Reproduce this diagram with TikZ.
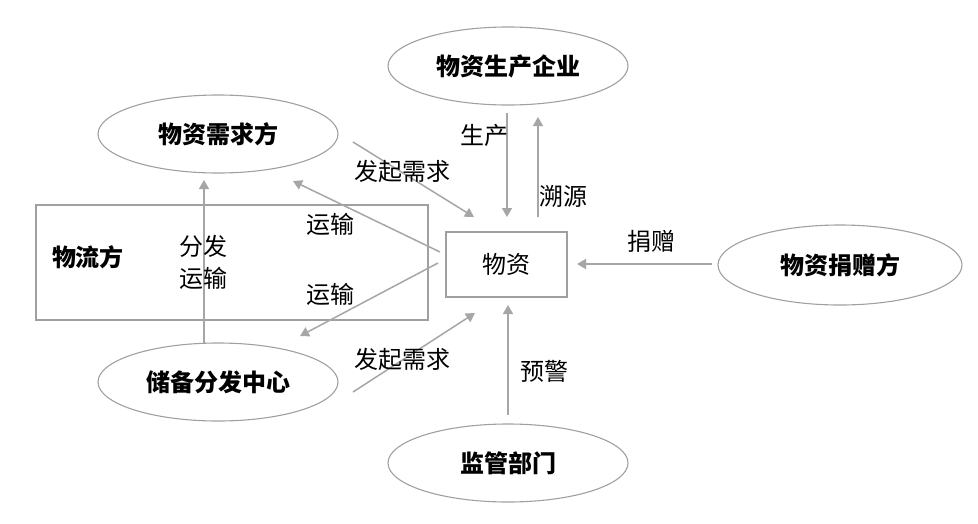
\documentclass[tikz,border=0pt]{standalone}
\usepackage{fontspec}
\setmainfont{Noto Sans CJK SC}
\usetikzlibrary{shapes.geometric,arrows.meta}
\definecolor{linegray}{HTML}{A6A6A6}
\definecolor{bordergray}{HTML}{A0A0A0}
\tikzset{
  party/.style={ellipse, draw=bordergray, line width=1.1pt, minimum width=240pt, minimum height=78pt, inner sep=0pt, font=\fontsize{24}{26}\selectfont\bfseries},
  boxnode/.style={rectangle, draw=bordergray, line width=1.1pt, inner sep=0pt},
  lbl/.style={inner sep=0pt, font=\fontsize{24}{26}\selectfont},
  flow/.style={draw=linegray, line width=1.5pt, -{Triangle[length=9pt,width=10pt]}},
}
\begin{document}
\begin{tikzpicture}[x=1pt,y=-1pt]
\useasboundingbox (0,0) rectangle (978,523);
% nodes
\node[party] (prod) at (508,66) {物资生产企业};
\node[party] (demand) at (218,134) {物资需求方};
\node[party] (store) at (218,382) {储备分发中心};
\node[party, minimum width=244pt, minimum height=80pt] (donor) at (840,265) {物资捐赠方};
\node[party] (super) at (508,463) {监管部门};
\node[boxnode, minimum width=392pt, minimum height=115pt] (logi) at (232,262.5) {};
\node[lbl, font=\fontsize{24}{26}\selectfont\bfseries] (logiL) at (88,257) {物流方};
\node[boxnode, minimum width=121pt, minimum height=65pt, font=\fontsize{24}{26}\selectfont] (goods) at (506.5,264.5) {物资};
% connector end points
\coordinate (p1) at (507,113); \coordinate (p2) at (507,217);
\coordinate (t1) at (538,217); \coordinate (t2) at (538,117);
\coordinate (d1) at (712,264); \coordinate (d2) at (577,264);
\coordinate (w1) at (508,415); \coordinate (w2) at (508,305);
\coordinate (f1) at (204,343); \coordinate (f2) at (204,180);
\coordinate (u1) at (440,252); \coordinate (u2) at (293,181);
\coordinate (l1) at (438,263); \coordinate (l2) at (300,336);
\coordinate (r1) at (353,142); \coordinate (r2) at (474,217);
\coordinate (s1) at (353,392); \coordinate (s2) at (475,313);
% connectors
\draw[flow] (p1) -- (p2);
\draw[flow] (t1) -- (t2);
\draw[flow] (d1) -- (d2);
\draw[flow] (w1) -- (w2);
\draw[flow] (f1) -- (f2);
\draw[flow] (u1) -- (u2);
\draw[flow] (l1) -- (l2);
\draw[flow] (r1) -- (r2);
\draw[flow] (s1) -- (s2);
% labels
\node[lbl] (lr) at (402,171) {发起需求};
\node[lbl] (ls) at (402,359) {发起需求};
\node[lbl] (lp) at (484,135) {生产};
\node[lbl] (lt) at (563,196) {溯源};
\node[lbl] (ld) at (651,241) {捐赠};
\node[lbl] (lw) at (544,371) {预警};
\node[lbl] (lf1) at (203,246) {分发};
\node[lbl] (lf2) at (203,278) {运输};
\node[lbl] (lu) at (330,224) {运输};
\node[lbl] (ll) at (330,294) {运输};
\end{tikzpicture}
\end{document}
